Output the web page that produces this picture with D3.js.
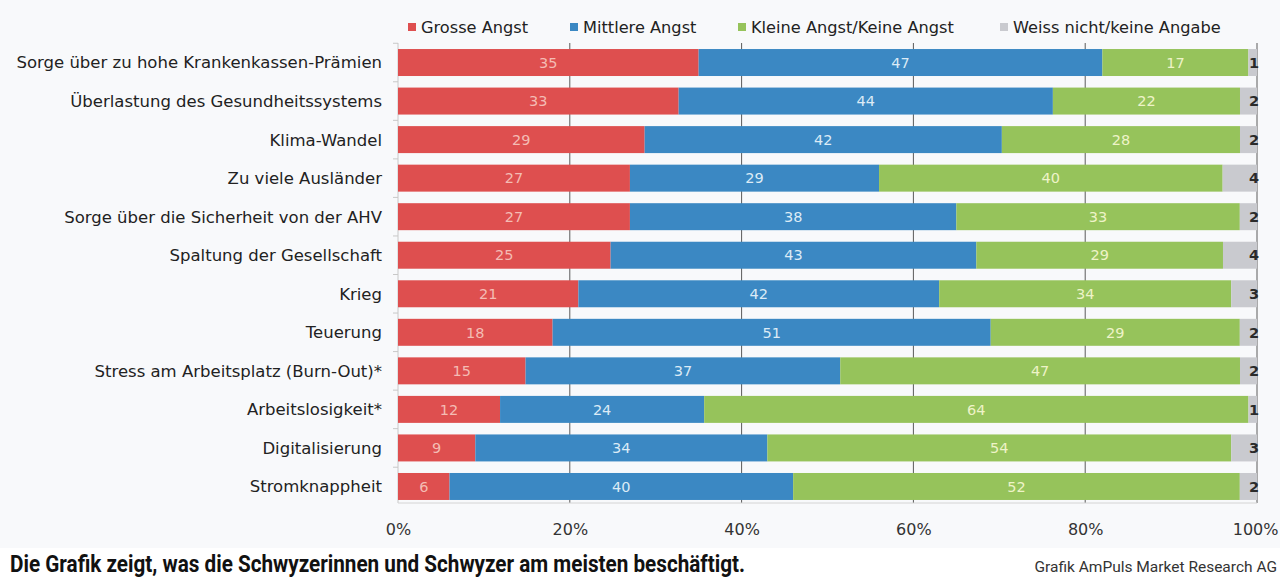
<!DOCTYPE html>
<html lang="de">
<head>
<meta charset="UTF-8" />
<title>Sorgen</title>
<script src="https://cdn.jsdelivr.net/npm/d3@7"></script>
<style>
  body { margin: 0; background: #fff; }
  #root { width: 1280px; height: 581px; }
</style>
</head>
<body>
<div id="root"><svg id="svg"></svg></div>
<script>
const categories = [
  "Sorge über zu hohe Krankenkassen-Prämien",
  "Überlastung des Gesundheitssystems",
  "Klima-Wandel",
  "Zu viele Ausländer",
  "Sorge über die Sicherheit von der AHV",
  "Spaltung der Gesellschaft",
  "Krieg",
  "Teuerung",
  "Stress am Arbeitsplatz (Burn-Out)*",
  "Arbeitslosigkeit*",
  "Digitalisierung",
  "Stromknappheit"
];
const seriesNames = ["Grosse Angst", "Mittlere Angst", "Kleine Angst/Keine Angst", "Weiss nicht/keine Angabe"];
const grosse   = [35, 33, 29, 27, 27, 25, 21, 18, 15, 12, 9, 6];
const mittlere = [47, 44, 42, 29, 38, 43, 42, 51, 37, 24, 34, 40];
const kleine   = [17, 22, 28, 40, 33, 29, 34, 29, 47, 64, 54, 52];
const weiss    = [1, 2, 2, 4, 2, 4, 3, 2, 2, 1, 3, 2];
const xTicks = [0, 0.2, 0.4, 0.6, 0.8, 1];

const colors = ["#de4f4f", "#3b88c3", "#96c35b", "#c9cacf"];
const labelColors = ["#f4bcb4", "#dcebf6", "#eef3c8", "#2a2a2a"];
const font = "'DejaVu Sans', Verdana, sans-serif";
const narrow = "'Liberation Sans Narrow', 'Roboto', sans-serif";

const width = 1280, height = 581;
const svg = d3.select("#svg").attr("width", width).attr("height", height);

// panel background
svg.append("rect").attr("width", width).attr("height", 548).attr("fill", "#f8f9fb");

const x = d3.scaleLinear().domain([0, 1]).range([398, 1257]);
const y = d3.scaleBand().domain(categories).range([43.25, 505.75]).paddingInner(0.3).paddingOuter(0.15);
const yBottom = 503;

// gridlines
svg.append("g")
  .selectAll("line")
  .data(xTicks.slice(1))
  .join("line")
  .attr("x1", d => x(d)).attr("x2", d => x(d))
  .attr("y1", 43).attr("y2", yBottom)
  .attr("stroke", "#5a5a5a").attr("stroke-width", 1);

// left axis with small ticks between rows
svg.append("line")
  .attr("x1", x(0)).attr("x2", x(0))
  .attr("y1", 43).attr("y2", yBottom)
  .attr("stroke", "#c8c8c8");
svg.append("g")
  .selectAll("line")
  .data(categories)
  .join("line")
  .attr("x1", x(0) - 5).attr("x2", x(0))
  .attr("y1", d => y(d) - y.step() * y.paddingInner() / 2)
  .attr("y2", d => y(d) - y.step() * y.paddingInner() / 2)
  .attr("stroke", "#c8c8c8");
svg.append("line")
  .attr("x1", x(0)).attr("x2", x(1))
  .attr("y1", yBottom).attr("y2", yBottom)
  .attr("stroke", "#d4d4d4");

// stacked data
const table = categories.map((c, i) => {
  const vals = [grosse[i], mittlere[i], kleine[i], weiss[i]];
  const total = d3.sum(vals);
  let acc = 0;
  return vals.map((v, k) => {
    const seg = { cat: c, k, v, x0: acc / total, x1: (acc + v) / total };
    acc += v;
    return seg;
  });
});

const rows = svg.append("g").selectAll("g")
  .data(table)
  .join("g")
  .attr("transform", d => `translate(0,${y(d[0].cat)})`);

rows.selectAll("rect")
  .data(d => d)
  .join("rect")
  .attr("x", d => x(d.x0))
  .attr("width", d => x(d.x1) - x(d.x0))
  .attr("height", y.bandwidth())
  .attr("fill", d => colors[d.k]);

rows.selectAll("text")
  .data(d => d)
  .join("text")
  .attr("x", d => d.k === 3 ? x(d.x1) + 2 : (x(d.x0) + x(d.x1)) / 2)
  .attr("y", y.bandwidth() / 2)
  .attr("dy", "0.36em")
  .attr("text-anchor", d => d.k === 3 ? "end" : "middle")
  .attr("fill", d => labelColors[d.k])
  .style("font-family", font)
  .style("font-size", "14.5px")
  .style("font-weight", d => d.k === 3 ? 700 : 400)
  .text(d => d.v);

// category labels
svg.append("g")
  .selectAll("text")
  .data(categories)
  .join("text")
  .attr("x", 382)
  .attr("y", d => y(d) + y.bandwidth() / 2)
  .attr("dy", "0.36em")
  .attr("text-anchor", "end")
  .attr("fill", "#222")
  .style("font-family", font)
  .style("font-size", "16.5px")
  .text(d => d);

// bottom axis labels
const xAxis = svg.append("g")
  .attr("transform", `translate(0,${yBottom})`)
  .call(d3.axisBottom(x).tickValues(xTicks).tickFormat(d3.format(".0%")).tickSize(0).tickPadding(21));
xAxis.select(".domain").remove();
xAxis.selectAll("text")
  .attr("fill", "#333")
  .style("font-family", font)
  .style("font-size", "16px");
xAxis.selectAll(".tick:last-of-type text").attr("text-anchor", "end").attr("x", 21);

// legend
const legendX = [408, 570, 738, 1000];
const legend = svg.append("g").selectAll("g")
  .data(seriesNames)
  .join("g")
  .attr("transform", (d, i) => `translate(${legendX[i]},27)`);
legend.append("rect").attr("x", 0).attr("y", -4).attr("width", 8).attr("height", 8).attr("fill", (d, i) => colors[i]);
legend.append("text")
  .attr("x", 13).attr("y", 0).attr("dy", "0.36em")
  .attr("fill", "#222")
  .style("font-family", font)
  .style("font-size", "16.2px")
  .text(d => d);

// caption + source
svg.append("text")
  .attr("x", 10).attr("y", 572)
  .attr("textLength", 735).attr("lengthAdjust", "spacingAndGlyphs")
  .attr("fill", "#111")
  .style("font-family", narrow)
  .style("font-size", "23px")
  .style("font-weight", 700)
  .text("Die Grafik zeigt, was die Schwyzerinnen und Schwyzer am meisten beschäftigt.");
svg.append("text")
  .attr("x", 1277).attr("y", 572)
  .attr("text-anchor", "end")
  .attr("fill", "#333")
  .style("font-family", narrow)
  .style("font-size", "15.5px")
  .text("Grafik AmPuls Market Research AG");
</script>
</body>
</html>
